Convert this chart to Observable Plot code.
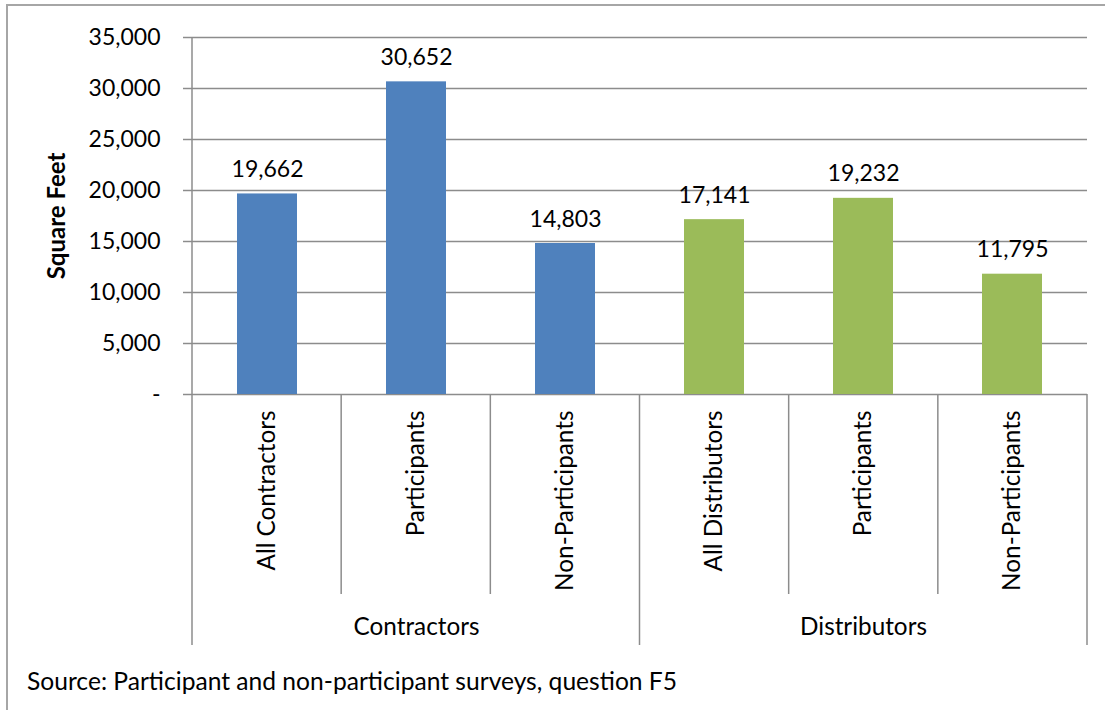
<!DOCTYPE html>
<html><head><meta charset="utf-8">
<script src="https://cdn.jsdelivr.net/npm/d3@7"></script>
<script src="https://cdn.jsdelivr.net/npm/@observablehq/plot@0.6"></script>
<style>
html,body{margin:0;padding:0;background:#fff;overflow:hidden;}
#wrap{position:relative;width:1105px;height:710px;overflow:hidden;font-family:Lato, sans-serif;background:#fff;}
#border{position:absolute;left:6px;top:4px;width:1300px;height:900px;border-left:2px solid #a6a6a6;border-top:2px solid #a6a6a6;}
#chart{position:absolute;left:0;top:0;}
#source{position:absolute;left:27px;top:666px;font-size:24.6px;color:#000;white-space:nowrap;}
</style></head><body>
<div id="wrap"><div id="border"></div><div id="chart"></div><div id="source">Source: Participant and non-participant surveys, question F5</div></div>
<script>
const groups = ["Contractors","Contractors","Contractors","Distributors","Distributors","Distributors"];
const categories = ["All Contractors","Participants","Non-Participants","All Distributors","Participants","Non-Participants"];
const values = [19662, 30652, 14803, 17141, 19232, 11795];
const groupNames = ["Contractors","Distributors"];
const groupColors = ["#4F81BD","#9BBB59"];
const yTicks = [0, 5000, 10000, 15000, 20000, 25000, 30000, 35000];
const yTitle = "Square Feet";

const gridColor = "#8c8c8c";
const data = categories.map((c, i) => ({id: groups[i] + "|" + c, group: groups[i], category: c, value: values[i]}));
const ids = data.map(d => d.id);
const labelOf = new Map(data.map(d => [d.id, d.category]));
const fmt = d3.format(",");
const groupData = groupNames.map(g => {
  const members = data.filter(d => d.group === g);
  return {group: g, id: members[Math.floor(members.length / 2)].id};
});

function separators(index, scales, vals, dims) {
  const n = ids.length;
  const x0 = dims.marginLeft, x1 = dims.width - dims.marginRight;
  const step = (x1 - x0) / n;
  const yZero = scales.y(0);
  const g = d3.create("svg:g").attr("stroke", gridColor).attr("stroke-width", 1.5);
  for (let i = 0; i <= n; i++) {
    const edge = i === 0 || i === n || groups[i] !== groups[i - 1];
    g.append("line")
      .attr("x1", x0 + i * step).attr("x2", x0 + i * step)
      .attr("y1", i === 0 ? dims.marginTop : yZero)
      .attr("y2", yZero + (edge ? 251 : 200));
  }
  return g.node();
}

const chart = Plot.plot({
  width: 1105,
  height: 660,
  marginLeft: 192,
  marginRight: 18,
  marginTop: 37,
  marginBottom: 266,
  style: {fontFamily: "Lato, sans-serif", background: "transparent", color: "#000", overflow: "visible"},
  x: {domain: ids, paddingInner: 0.6, paddingOuter: 0.3},
  y: {domain: [0, 35000]},
  color: {domain: groupNames, range: groupColors},
  marks: [
    Plot.gridY(yTicks, {stroke: gridColor, strokeOpacity: 1, strokeWidth: 1.5}),
    Plot.barY(data, {x: "id", y: "value", fill: "group"}),
    Plot.axisY(yTicks, {tickFormat: d => d === 0 ? "-" : fmt(d), tickSize: 9, tickPadding: 23, fontSize: 23, label: null, stroke: gridColor, strokeWidth: 1.5, fill: "#000"}),
    Plot.axisX({tickFormat: id => labelOf.get(id), tickRotate: -90, tickSize: 0, tickPadding: 16, fontSize: 24.3, label: null, fill: "#000"}),
    separators,
    Plot.text(data, {x: "id", y: "value", text: d => fmt(d.value), lineAnchor: "bottom", dy: -17, fontSize: 23, fill: "#000"}),
    Plot.text(groupData, {x: "id", text: "group", frameAnchor: "bottom", dy: 240, fontSize: 24.3, fill: "#000"}),
    Plot.text([yTitle], {text: d => d, frameAnchor: "left", textAnchor: "middle", rotate: -90, dx: -135, fontSize: 24, fontWeight: "bold", fill: "#000"})
  ]
});
document.getElementById("chart").appendChild(chart);
</script>
</body></html>
